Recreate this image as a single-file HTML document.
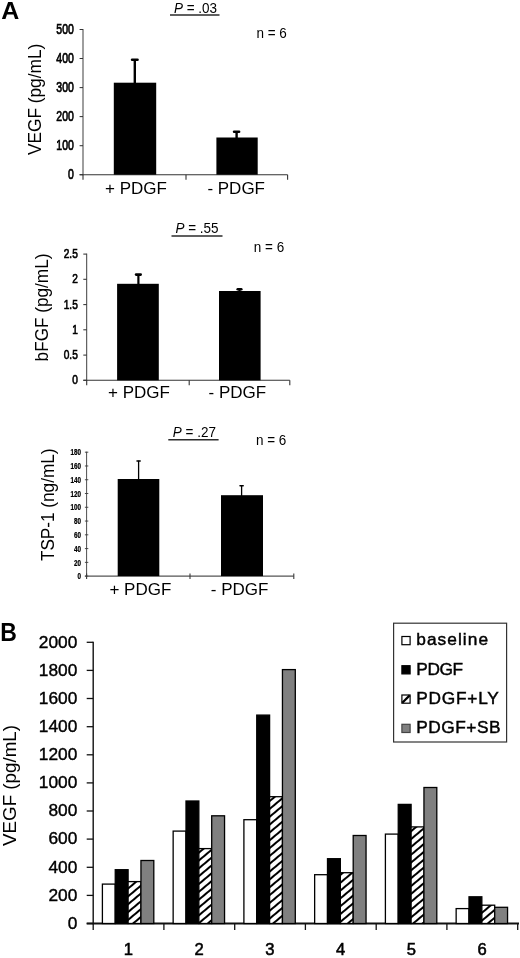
<!DOCTYPE html>
<html><head><meta charset="utf-8"><title>Figure</title>
<style>html,body{margin:0;padding:0;background:#fff}svg{display:block}text{font-family:"Liberation Sans",sans-serif;fill:#000}</style>
</head><body>
<svg width="520" height="958" viewBox="0 0 520 958">
<defs><pattern id="h" width="6" height="6" patternUnits="userSpaceOnUse" patternTransform="rotate(-40)"><rect width="6" height="6" fill="#fff"/><rect y="0" width="6" height="2" fill="#000"/></pattern></defs>
<rect width="520" height="958" fill="#fff"/>
<text transform="translate(1.3,19.2) scale(1.04,1)" font-size="24" font-weight="bold">A</text>
<path d="M83.0 29.0V175.2" stroke="#333" stroke-width="0.95" fill="none"/>
<path d="M79.6 29.5H83.0" stroke="#333" stroke-width="1.05"/>
<text transform="translate(73.8,33.81) scale(0.75,1)" font-size="14" text-anchor="end" font-weight="normal" stroke="#000" stroke-width="0.7">500</text>
<path d="M79.6 58.5H83.0" stroke="#333" stroke-width="1.05"/>
<text transform="translate(73.8,62.81) scale(0.75,1)" font-size="14" text-anchor="end" font-weight="normal" stroke="#000" stroke-width="0.7">400</text>
<path d="M79.6 87.6H83.0" stroke="#333" stroke-width="1.05"/>
<text transform="translate(73.8,91.91) scale(0.75,1)" font-size="14" text-anchor="end" font-weight="normal" stroke="#000" stroke-width="0.7">300</text>
<path d="M79.6 116.6H83.0" stroke="#333" stroke-width="1.05"/>
<text transform="translate(73.8,120.91) scale(0.75,1)" font-size="14" text-anchor="end" font-weight="normal" stroke="#000" stroke-width="0.7">200</text>
<path d="M79.6 145.7H83.0" stroke="#333" stroke-width="1.05"/>
<text transform="translate(73.8,150.01) scale(0.75,1)" font-size="14" text-anchor="end" font-weight="normal" stroke="#000" stroke-width="0.7">100</text>
<path d="M79.6 174.7H83.0" stroke="#333" stroke-width="1.05"/>
<text transform="translate(73.8,179.01) scale(0.75,1)" font-size="14" text-anchor="end" font-weight="normal" stroke="#000" stroke-width="0.7">0</text>
<path d="M79.6 174.7H287.6" stroke="#333" stroke-width="1.0999999999999999"/>
<path d="M83.0 174.7V179.7" stroke="#333" stroke-width="1.1"/>
<path d="M186 174.7V179.7" stroke="#333" stroke-width="1.1"/>
<path d="M287.6 174.7V179.7" stroke="#333" stroke-width="1.1"/>
<rect x="113.8" y="82.7" width="42.39999999999999" height="91.99999999999999" fill="#000"/>
<rect x="216.4" y="137.5" width="41.29999999999998" height="37.19999999999999" fill="#000"/>
<path d="M134.8 59.5V84" stroke="#000" stroke-width="2.4"/>
<path d="M132.10000000000002 59.7H137.5" stroke="#000" stroke-width="2.6" stroke-linecap="round"/>
<path d="M236.6 131.5V139" stroke="#000" stroke-width="2.4"/>
<path d="M234.1 131.7H239.1" stroke="#000" stroke-width="2.6" stroke-linecap="round"/>
<text transform="translate(41.4,99.4) rotate(-90) scale(0.91,1)" font-size="19" text-anchor="middle" >VEGF (pg/mL)</text>
<text transform="translate(174,13.3) scale(0.9,1)" font-size="15"><tspan font-style="italic">P</tspan> = .03</text>
<path d="M170 14.9H219.5" stroke="#2a2a2a" stroke-width="1.5"/>
<text transform="translate(256.5,38.3) scale(0.9,1)" font-size="15">n = 6</text>
<text x="105" y="193.8" font-size="17" text-anchor="start" font-weight="normal" font-style="normal" >+ PDGF</text>
<text x="207.4" y="193.8" font-size="17" text-anchor="start" font-weight="normal" font-style="normal" >- PDGF</text>
<path d="M86.7 253.6V380.8" stroke="#333" stroke-width="0.95" fill="none"/>
<path d="M83.3 254.1H86.7" stroke="#333" stroke-width="1.05"/>
<text transform="translate(77.8,258.23) scale(0.75,1)" font-size="13.5" text-anchor="end" font-weight="normal" stroke="#000" stroke-width="0.7">2.5</text>
<path d="M83.3 279.3H86.7" stroke="#333" stroke-width="1.05"/>
<text transform="translate(77.8,283.43) scale(0.75,1)" font-size="13.5" text-anchor="end" font-weight="normal" stroke="#000" stroke-width="0.7">2</text>
<path d="M83.3 304.6H86.7" stroke="#333" stroke-width="1.05"/>
<text transform="translate(77.8,308.73) scale(0.75,1)" font-size="13.5" text-anchor="end" font-weight="normal" stroke="#000" stroke-width="0.7">1.5</text>
<path d="M83.3 329.8H86.7" stroke="#333" stroke-width="1.05"/>
<text transform="translate(77.8,333.93) scale(0.75,1)" font-size="13.5" text-anchor="end" font-weight="normal" stroke="#000" stroke-width="0.7">1</text>
<path d="M83.3 355.1H86.7" stroke="#333" stroke-width="1.05"/>
<text transform="translate(77.8,359.23) scale(0.75,1)" font-size="13.5" text-anchor="end" font-weight="normal" stroke="#000" stroke-width="0.7">0.5</text>
<path d="M83.3 380.3H86.7" stroke="#333" stroke-width="1.05"/>
<text transform="translate(77.8,384.43) scale(0.75,1)" font-size="13.5" text-anchor="end" font-weight="normal" stroke="#000" stroke-width="0.7">0</text>
<path d="M83.3 380.3H289.8" stroke="#333" stroke-width="1.0999999999999999"/>
<path d="M86.7 380.3V385.3" stroke="#333" stroke-width="1.1"/>
<path d="M189.2 380.3V385.3" stroke="#333" stroke-width="1.1"/>
<path d="M289.8 380.3V385.3" stroke="#333" stroke-width="1.1"/>
<rect x="117.1" y="283.8" width="41.70000000000002" height="96.5" fill="#000"/>
<rect x="219" y="291" width="41.60000000000002" height="89.30000000000001" fill="#000"/>
<path d="M138.4 274.4V285" stroke="#000" stroke-width="2.2"/>
<path d="M136.1 274.59999999999997H140.70000000000002" stroke="#000" stroke-width="2.6" stroke-linecap="round"/>
<path d="M239.5 289.1V293" stroke="#000" stroke-width="2.2"/>
<path d="M237.7 289.3H241.3" stroke="#000" stroke-width="2.6" stroke-linecap="round"/>
<text transform="translate(48.4,307.5) rotate(-90) scale(0.965,1)" font-size="17.8" text-anchor="middle" >bFGF (pg/mL)</text>
<text transform="translate(175.5,233.0) scale(0.9,1)" font-size="15"><tspan font-style="italic">P</tspan> = .55</text>
<path d="M171.5 236.0H222.5" stroke="#2a2a2a" stroke-width="1.5"/>
<text transform="translate(253.8,252.10000000000002) scale(0.9,1)" font-size="15">n = 6</text>
<text x="108" y="398.3" font-size="17" text-anchor="start" font-weight="normal" font-style="normal" >+ PDGF</text>
<text x="208.6" y="398.3" font-size="17" text-anchor="start" font-weight="normal" font-style="normal" >- PDGF</text>
<path d="M86.6 451.7V576.6" stroke="#3a3a3a" stroke-width="0.9" fill="none"/>
<path d="M84.89999999999999 452.2H88.3" stroke="#3a3a3a" stroke-width="0.9"/>
<text transform="translate(81,455.35) scale(0.72,1)" font-size="8.8" text-anchor="end" font-weight="bold" stroke="#000" stroke-width="0.25">180</text>
<path d="M84.89999999999999 465.96999999999997H88.3" stroke="#3a3a3a" stroke-width="0.9"/>
<text transform="translate(81,469.12) scale(0.72,1)" font-size="8.8" text-anchor="end" font-weight="bold" stroke="#000" stroke-width="0.25">160</text>
<path d="M84.89999999999999 479.74H88.3" stroke="#3a3a3a" stroke-width="0.9"/>
<text transform="translate(81,482.89) scale(0.72,1)" font-size="8.8" text-anchor="end" font-weight="bold" stroke="#000" stroke-width="0.25">140</text>
<path d="M84.89999999999999 493.51H88.3" stroke="#3a3a3a" stroke-width="0.9"/>
<text transform="translate(81,496.66) scale(0.72,1)" font-size="8.8" text-anchor="end" font-weight="bold" stroke="#000" stroke-width="0.25">120</text>
<path d="M84.89999999999999 507.28H88.3" stroke="#3a3a3a" stroke-width="0.9"/>
<text transform="translate(81,510.43) scale(0.72,1)" font-size="8.8" text-anchor="end" font-weight="bold" stroke="#000" stroke-width="0.25">100</text>
<path d="M84.89999999999999 521.05H88.3" stroke="#3a3a3a" stroke-width="0.9"/>
<text transform="translate(81,524.2) scale(0.72,1)" font-size="8.8" text-anchor="end" font-weight="bold" stroke="#000" stroke-width="0.25">80</text>
<path d="M84.89999999999999 534.8199999999999H88.3" stroke="#3a3a3a" stroke-width="0.9"/>
<text transform="translate(81,537.97) scale(0.72,1)" font-size="8.8" text-anchor="end" font-weight="bold" stroke="#000" stroke-width="0.25">60</text>
<path d="M84.89999999999999 548.59H88.3" stroke="#3a3a3a" stroke-width="0.9"/>
<text transform="translate(81,551.74) scale(0.72,1)" font-size="8.8" text-anchor="end" font-weight="bold" stroke="#000" stroke-width="0.25">40</text>
<path d="M84.89999999999999 562.36H88.3" stroke="#3a3a3a" stroke-width="0.9"/>
<text transform="translate(81,565.51) scale(0.72,1)" font-size="8.8" text-anchor="end" font-weight="bold" stroke="#000" stroke-width="0.25">20</text>
<path d="M84.89999999999999 576.13H88.3" stroke="#3a3a3a" stroke-width="0.9"/>
<text transform="translate(81,579.28) scale(0.72,1)" font-size="8.8" text-anchor="end" font-weight="bold" stroke="#000" stroke-width="0.25">0</text>
<path d="M84.89999999999999 576.1H293.8" stroke="#555" stroke-width="1.05"/>
<path d="M86.6 573.6V578.9" stroke="#3a3a3a" stroke-width="1.1"/>
<path d="M190 573.6V578.9" stroke="#3a3a3a" stroke-width="1.1"/>
<path d="M293.8 573.6V578.9" stroke="#3a3a3a" stroke-width="1.1"/>
<rect x="117.7" y="479" width="41.60000000000001" height="97.10000000000002" fill="#000"/>
<rect x="221" y="495.2" width="42" height="80.90000000000003" fill="#000"/>
<path d="M138.6 460.7V481" stroke="#000" stroke-width="1.3"/>
<path d="M137.0 460.9H140.2" stroke="#000" stroke-width="1.5" stroke-linecap="round"/>
<path d="M241.6 485.5V497" stroke="#000" stroke-width="1.3"/>
<path d="M240.0 485.7H243.2" stroke="#000" stroke-width="1.5" stroke-linecap="round"/>
<text transform="translate(53.9,504.8) rotate(-90) scale(0.955,1)" font-size="18" text-anchor="middle" >TSP-1 (ng/mL)</text>
<text transform="translate(172.8,436.8) scale(0.9,1)" font-size="15"><tspan font-style="italic">P</tspan> = .27</text>
<path d="M168.3 439.8H218.6" stroke="#2a2a2a" stroke-width="1.5"/>
<text transform="translate(256,444.5) scale(0.9,1)" font-size="15">n = 6</text>
<text x="109.4" y="595" font-size="17" text-anchor="start" font-weight="normal" font-style="normal" >+ PDGF</text>
<text x="210.8" y="595" font-size="17" text-anchor="start" font-weight="normal" font-style="normal" >- PDGF</text>
<text transform="translate(0.3,640.5) scale(0.92,1)" font-size="25" font-weight="bold">B</text>
<path d="M93.2 641.6999999999999V924.2" stroke="#111" stroke-width="1.4" fill="none"/>
<path d="M86.7 923.5H93.2" stroke="#111" stroke-width="1.3"/>
<text x="77.3" y="928.7" font-size="17.3" text-anchor="end" font-weight="normal" font-style="normal" stroke="#000" stroke-width="0.4">0</text>
<path d="M86.7 895.4H93.2" stroke="#111" stroke-width="1.3"/>
<text x="77.3" y="900.6" font-size="17.3" text-anchor="end" font-weight="normal" font-style="normal" stroke="#000" stroke-width="0.4">200</text>
<path d="M86.7 867.3H93.2" stroke="#111" stroke-width="1.3"/>
<text x="77.3" y="872.5" font-size="17.3" text-anchor="end" font-weight="normal" font-style="normal" stroke="#000" stroke-width="0.4">400</text>
<path d="M86.7 839.1H93.2" stroke="#111" stroke-width="1.3"/>
<text x="77.3" y="844.3" font-size="17.3" text-anchor="end" font-weight="normal" font-style="normal" stroke="#000" stroke-width="0.4">600</text>
<path d="M86.7 811.0H93.2" stroke="#111" stroke-width="1.3"/>
<text x="77.3" y="816.2" font-size="17.3" text-anchor="end" font-weight="normal" font-style="normal" stroke="#000" stroke-width="0.4">800</text>
<path d="M86.7 782.9H93.2" stroke="#111" stroke-width="1.3"/>
<text x="77.3" y="788.1" font-size="17.3" text-anchor="end" font-weight="normal" font-style="normal" stroke="#000" stroke-width="0.4">1000</text>
<path d="M86.7 754.8H93.2" stroke="#111" stroke-width="1.3"/>
<text x="77.3" y="760.0" font-size="17.3" text-anchor="end" font-weight="normal" font-style="normal" stroke="#000" stroke-width="0.4">1200</text>
<path d="M86.7 726.7H93.2" stroke="#111" stroke-width="1.3"/>
<text x="77.3" y="731.9" font-size="17.3" text-anchor="end" font-weight="normal" font-style="normal" stroke="#000" stroke-width="0.4">1400</text>
<path d="M86.7 698.5H93.2" stroke="#111" stroke-width="1.3"/>
<text x="77.3" y="703.7" font-size="17.3" text-anchor="end" font-weight="normal" font-style="normal" stroke="#000" stroke-width="0.4">1600</text>
<path d="M86.7 670.4H93.2" stroke="#111" stroke-width="1.3"/>
<text x="77.3" y="675.6" font-size="17.3" text-anchor="end" font-weight="normal" font-style="normal" stroke="#000" stroke-width="0.4">1800</text>
<path d="M86.7 642.3H93.2" stroke="#111" stroke-width="1.3"/>
<text x="77.3" y="647.5" font-size="17.3" text-anchor="end" font-weight="normal" font-style="normal" stroke="#000" stroke-width="0.4">2000</text>
<path d="M86.7 923.5H519" stroke="#111" stroke-width="1.8"/>
<path d="M93.2 923.5V930.0" stroke="#111" stroke-width="1.3"/>
<path d="M163.9 923.5V930.0" stroke="#111" stroke-width="1.3"/>
<path d="M234.7 923.5V930.0" stroke="#111" stroke-width="1.3"/>
<path d="M305.4 923.5V930.0" stroke="#111" stroke-width="1.3"/>
<path d="M376.2 923.5V930.0" stroke="#111" stroke-width="1.3"/>
<path d="M446.9 923.5V930.0" stroke="#111" stroke-width="1.3"/>
<path d="M517.7 923.5V930.0" stroke="#111" stroke-width="1.3"/>
<rect x="102.40" y="884.1" width="12.85" height="39.4" fill="#fff" stroke="#000" stroke-width="1.3"/>
<rect x="115.25" y="869.7" width="12.85" height="53.8" fill="#000" stroke="#000" stroke-width="1.3"/>
<rect x="128.10" y="881.6" width="12.85" height="41.9" fill="url(#h)" stroke="#000" stroke-width="1.3"/>
<rect x="140.95" y="860.5" width="12.85" height="63.0" fill="#808080" stroke="#000" stroke-width="1.3"/>
<text x="128.3" y="955" font-size="16.6" text-anchor="middle" font-weight="normal" font-style="normal" stroke="#000" stroke-width="0.55">1</text>
<rect x="173.15" y="831.1" width="12.85" height="92.4" fill="#fff" stroke="#000" stroke-width="1.3"/>
<rect x="186.00" y="801.0" width="12.85" height="122.5" fill="#000" stroke="#000" stroke-width="1.3"/>
<rect x="198.85" y="848.6" width="12.85" height="74.9" fill="url(#h)" stroke="#000" stroke-width="1.3"/>
<rect x="211.70" y="815.8" width="12.85" height="107.7" fill="#808080" stroke="#000" stroke-width="1.3"/>
<text x="199.0" y="955" font-size="16.6" text-anchor="middle" font-weight="normal" font-style="normal" stroke="#000" stroke-width="0.55">2</text>
<rect x="243.90" y="819.7" width="12.85" height="103.8" fill="#fff" stroke="#000" stroke-width="1.3"/>
<rect x="256.75" y="715.1" width="12.85" height="208.4" fill="#000" stroke="#000" stroke-width="1.3"/>
<rect x="269.60" y="796.7" width="12.85" height="126.8" fill="url(#h)" stroke="#000" stroke-width="1.3"/>
<rect x="282.45" y="669.6" width="12.85" height="253.9" fill="#808080" stroke="#000" stroke-width="1.3"/>
<text x="269.8" y="955" font-size="16.6" text-anchor="middle" font-weight="normal" font-style="normal" stroke="#000" stroke-width="0.55">3</text>
<rect x="314.65" y="874.7" width="12.85" height="48.8" fill="#fff" stroke="#000" stroke-width="1.3"/>
<rect x="327.50" y="858.7" width="12.85" height="64.8" fill="#000" stroke="#000" stroke-width="1.3"/>
<rect x="340.35" y="872.7" width="12.85" height="50.8" fill="url(#h)" stroke="#000" stroke-width="1.3"/>
<rect x="353.20" y="835.5" width="12.85" height="88.0" fill="#808080" stroke="#000" stroke-width="1.3"/>
<text x="340.5" y="955" font-size="16.6" text-anchor="middle" font-weight="normal" font-style="normal" stroke="#000" stroke-width="0.55">4</text>
<rect x="385.40" y="834.1" width="12.85" height="89.4" fill="#fff" stroke="#000" stroke-width="1.3"/>
<rect x="398.25" y="804.4" width="12.85" height="119.1" fill="#000" stroke="#000" stroke-width="1.3"/>
<rect x="411.10" y="826.9" width="12.85" height="96.6" fill="url(#h)" stroke="#000" stroke-width="1.3"/>
<rect x="423.95" y="787.5" width="12.85" height="136.0" fill="#808080" stroke="#000" stroke-width="1.3"/>
<text x="411.3" y="955" font-size="16.6" text-anchor="middle" font-weight="normal" font-style="normal" stroke="#000" stroke-width="0.55">5</text>
<rect x="456.15" y="908.6" width="12.85" height="14.9" fill="#fff" stroke="#000" stroke-width="1.3"/>
<rect x="469.00" y="896.8" width="12.85" height="26.7" fill="#000" stroke="#000" stroke-width="1.3"/>
<rect x="481.85" y="905.2" width="12.85" height="18.3" fill="url(#h)" stroke="#000" stroke-width="1.3"/>
<rect x="494.70" y="907.3" width="12.85" height="16.2" fill="#808080" stroke="#000" stroke-width="1.3"/>
<text x="482.0" y="955" font-size="16.6" text-anchor="middle" font-weight="normal" font-style="normal" stroke="#000" stroke-width="0.55">6</text>
<text transform="translate(16.2,785.5) rotate(-90) scale(1,1)" font-size="18.8" text-anchor="middle" >VEGF (pg/mL)</text>
<rect x="393.6" y="623.2" width="113" height="118.8" fill="#fff" stroke="#333" stroke-width="1.2"/>
<rect x="401.9" y="636.5" width="8.2" height="8.2" fill="#fff" stroke="#000" stroke-width="1.2"/>
<text x="416.3" y="645" font-size="17.3" text-anchor="start" font-weight="normal" font-style="normal" textLength="71.7" lengthAdjust="spacing" stroke="#000" stroke-width="0.45">baseline</text>
<rect x="401.9" y="665.7" width="8.2" height="8.2" fill="#000" stroke="#000" stroke-width="1.2"/>
<text x="416.3" y="674.5" font-size="17.3" text-anchor="start" font-weight="normal" font-style="normal" textLength="46.7" lengthAdjust="spacing" stroke="#000" stroke-width="0.45">PDGF</text>
<rect x="401.9" y="695.0" width="8.2" height="8.2" fill="#fff" stroke="#000" stroke-width="1.2"/>
<path d="M402.3 702.8L409.7 695.4" stroke="#000" stroke-width="2.2"/>
<text x="416.3" y="703.8" font-size="17.3" text-anchor="start" font-weight="normal" font-style="normal" textLength="82.5" lengthAdjust="spacing" stroke="#000" stroke-width="0.45">PDGF+LY</text>
<rect x="401.9" y="724.3" width="8.2" height="8.2" fill="#808080" stroke="#444" stroke-width="1.2"/>
<text x="416.3" y="733" font-size="17.3" text-anchor="start" font-weight="normal" font-style="normal" textLength="84.2" lengthAdjust="spacing" stroke="#000" stroke-width="0.45">PDGF+SB</text>
</svg></body></html>
